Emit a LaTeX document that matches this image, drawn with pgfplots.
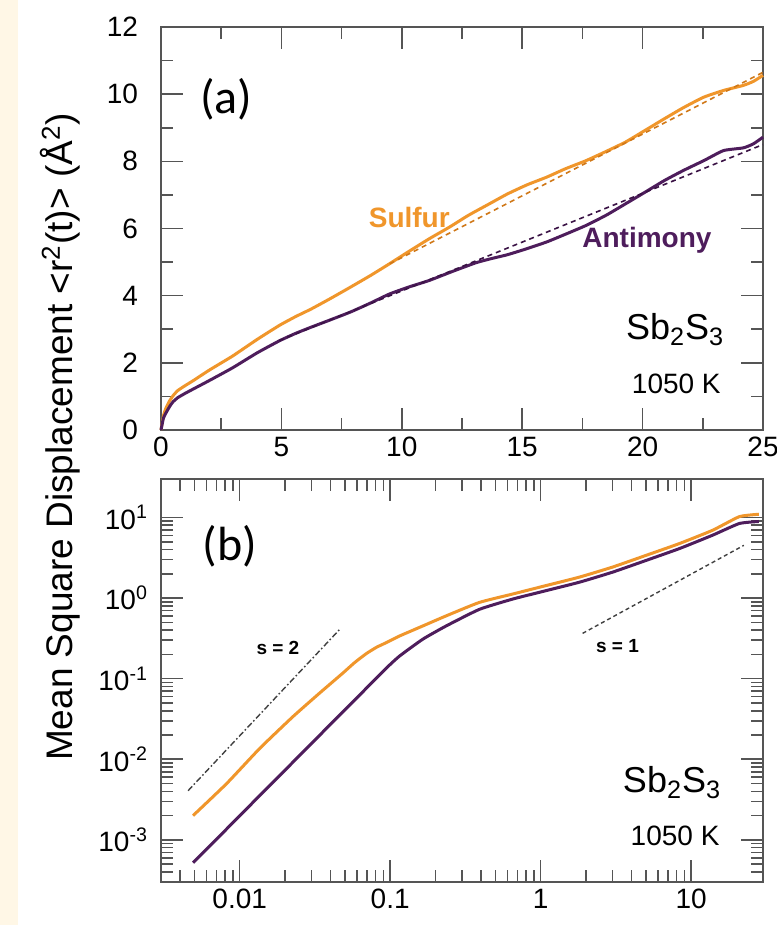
\documentclass[border=0pt]{standalone}
\usepackage{fontspec}
\setmainfont{Liberation Sans}
\newfontfamily\panelfont{Carlito}
\usepackage{pgfplots}
\pgfplotsset{compat=1.18}
\definecolor{sulf}{HTML}{F0962B}
\definecolor{anti}{HTML}{4E1D5C}
\definecolor{sulfdk}{HTML}{D07818}
\definecolor{antidk}{HTML}{3A1245}
\definecolor{cream}{HTML}{FFF7E6}
\definecolor{axgray}{HTML}{555555}

\pgfplotsset{msd/.style={
  scale only axis, width=301pt, height=201.5pt,
  axis line style={draw=axgray, line width=0.8pt},
  tick style={draw=axgray, line width=0.8pt},
  tick align=inside,
  major tick length=11pt, minor tick length=6pt,
  ticklabel style={font=\fontsize{14}{16}\selectfont},
  /pgf/number format/assume math mode=true,
}}

\begin{document}
\begin{tikzpicture}
\useasboundingbox (0pt,0pt) rectangle (388pt,462.5pt);
\fill[white] (0pt,0pt) rectangle (388pt,462.5pt);
\fill[cream] (0pt,0pt) rectangle (9pt,462.5pt);

% ---- (a) linear axes
\begin{axis}[msd, at={(80.5pt,247.5pt)}, anchor=south west,
  xmin=0, xmax=25, ymin=0, ymax=12,
  xtick={0,5,...,25}, minor xtick={2.5,7.5,...,22.5},
  ytick={0,2,...,12}, minor ytick={1,3,...,11},
  yticklabel style={xshift=-8pt},
  clip=false]
  \addplot[sulf, line width=1.5pt, smooth, tension=0.3] coordinates {
    (0,0) (0.1,0.42) (0.2,0.64) (0.36,0.87) (0.5,1.02) (0.69,1.17) (1.0,1.32)
    (1.34,1.47) (2.0,1.78) (2.97,2.2) (4.0,2.7) (4.93,3.12) (5.6,3.38) (6.23,3.6)
    (7.0,3.9) (7.86,4.25) (8.7,4.6) (9.49,4.95) (10.3,5.32) (11.13,5.69)
    (12.0,6.05) (12.76,6.39) (13.6,6.72) (14.39,7.03) (15.2,7.3) (16.02,7.53)
    (16.8,7.78) (17.65,8.02) (18.5,8.3) (19.28,8.57) (20.1,8.92) (20.91,9.27)
    (21.7,9.6) (22.54,9.91) (23.36,10.11) (24.18,10.26) (24.6,10.38) (25,10.56)};
  \addplot[anti, line width=1.5pt, smooth, tension=0.3] coordinates {
    (0,0) (0.1,0.35) (0.2,0.5) (0.36,0.7) (0.5,0.84) (0.69,0.96) (1.0,1.09)
    (1.34,1.22) (2.0,1.47) (2.97,1.85) (4.0,2.3) (4.93,2.66) (5.6,2.88) (6.23,3.06)
    (7.0,3.27) (7.86,3.51) (8.7,3.78) (9.49,4.05) (10.3,4.26) (11.13,4.45)
    (12.1,4.72) (13.08,4.98) (13.7,5.1) (14.39,5.22) (15.2,5.4) (16.02,5.6)
    (16.8,5.83) (17.65,6.09) (18.5,6.4) (19.28,6.73) (20.1,7.08) (20.91,7.43)
    (21.7,7.73) (22.54,8.02) (23.36,8.32) (24.18,8.4) (24.6,8.52) (25,8.72)};
  % linear fits
  \addplot[sulfdk, line width=0.8pt, dash pattern=on 2.5pt off 2pt] coordinates {(9.5,4.95) (25,10.65)};
  \addplot[antidk, line width=0.8pt, dash pattern=on 2.5pt off 2pt] coordinates {(4.9,2.66) (25,8.5)};

  \node[font=\panelfont\fontsize{24}{26}\selectfont] at (axis cs:2.72,9.86) {(a)};
  \node[font=\bfseries\fontsize{14}{16}\selectfont, text=sulf] at (axis cs:10.31,6.34) {Sulfur};
  \node[font=\bfseries\fontsize{14}{16}\selectfont, text=anti] at (axis cs:20.18,5.64) {Antimony};
  \node[font=\fontsize{18}{20}\selectfont] at (axis cs:21.35,2.98) {Sb\textsubscript{2}S\textsubscript{3}};
  \node[font=\fontsize{14}{16}\selectfont] at (axis cs:21.4,1.37) {1050 K};
\end{axis}

% ---- (b) log-log axes
\begin{axis}[msd, at={(80.5pt,21.5pt)}, anchor=south west,
  xmode=log, ymode=log, log basis x=10, log basis y=10,
  xmin=0.003, xmax=30, ymin=3e-4, ymax=30,
  log ticks with fixed point,
  yticklabel={\pgfmathparse{int(round(\tick))}10\textsuperscript{\pgfmathresult}},
  yticklabel style={xshift=-3pt},
  clip=false]
  \addplot[sulf, line width=1.5pt, smooth, tension=0.3] coordinates {
    (0.0049,0.0020) (0.00817,0.00497) (0.01358,0.01361) (0.02259,0.0338)
    (0.03396,0.0662) (0.04853,0.1175) (0.05808,0.1585) (0.06934,0.2042)
    (0.08128,0.2455) (0.09397,0.2793) (0.1153,0.3381) (0.1648,0.4508)
    (0.2355,0.6012) (0.3917,0.8830) (0.6516,1.122) (0.9795,1.361) (1.803,1.816)
    (2.999,2.421) (5.0,3.381) (8.318,4.732) (13.84,6.918) (20.89,10.23) (28.18,10.96)};
  \addplot[anti, line width=1.5pt, smooth, tension=0.3] coordinates {
    (0.0049,0.00052) (0.00817,0.001358) (0.01358,0.00354) (0.02259,0.009204)
    (0.03758,0.02399) (0.06252,0.06237) (0.09397,0.1343) (0.1153,0.1905)
    (0.1648,0.309) (0.2355,0.4508) (0.3917,0.7244) (0.6516,0.9716)
    (0.9795,1.178) (1.803,1.570) (2.999,2.094) (5.0,2.924) (8.318,4.098)
    (13.84,6.012) (20.89,8.414) (28.18,8.913)};
  % reference slopes
  \addplot[black!75, line width=0.7pt, dash pattern=on 3pt off 1.2pt on 0.8pt off 1.2pt]
    coordinates {(0.00454,0.00407) (0.0461,0.407)};
  \addplot[black!75, line width=0.7pt, dash pattern=on 2pt off 1.5pt]
    coordinates {(1.90,0.365) (22.4,4.51)};

  \node[font=\panelfont\fontsize{24}{26}\selectfont] at (axis cs:0.0086,4.34) {(b)};
  \node[font=\bfseries\fontsize{9.5}{11}\selectfont] at (axis cs:0.01795,0.242) {s = 2};
  \node[font=\bfseries\fontsize{9.5}{11}\selectfont] at (axis cs:3.24,0.2535) {s = 1};
  \node[font=\fontsize{18}{20}\selectfont] at (axis cs:7.46,0.0051) {Sb\textsubscript{2}S\textsubscript{3}};
  \node[font=\fontsize{14}{16}\selectfont] at (axis cs:7.82,0.00112) {1050 K};
\end{axis}

\node[rotate=90, font=\fontsize{18.5}{20}\selectfont] at (30pt,244pt)
  {Mean Square Displacement <r\textsuperscript{2}(t)> (Å\textsuperscript{2})};
\end{tikzpicture}
\end{document}
